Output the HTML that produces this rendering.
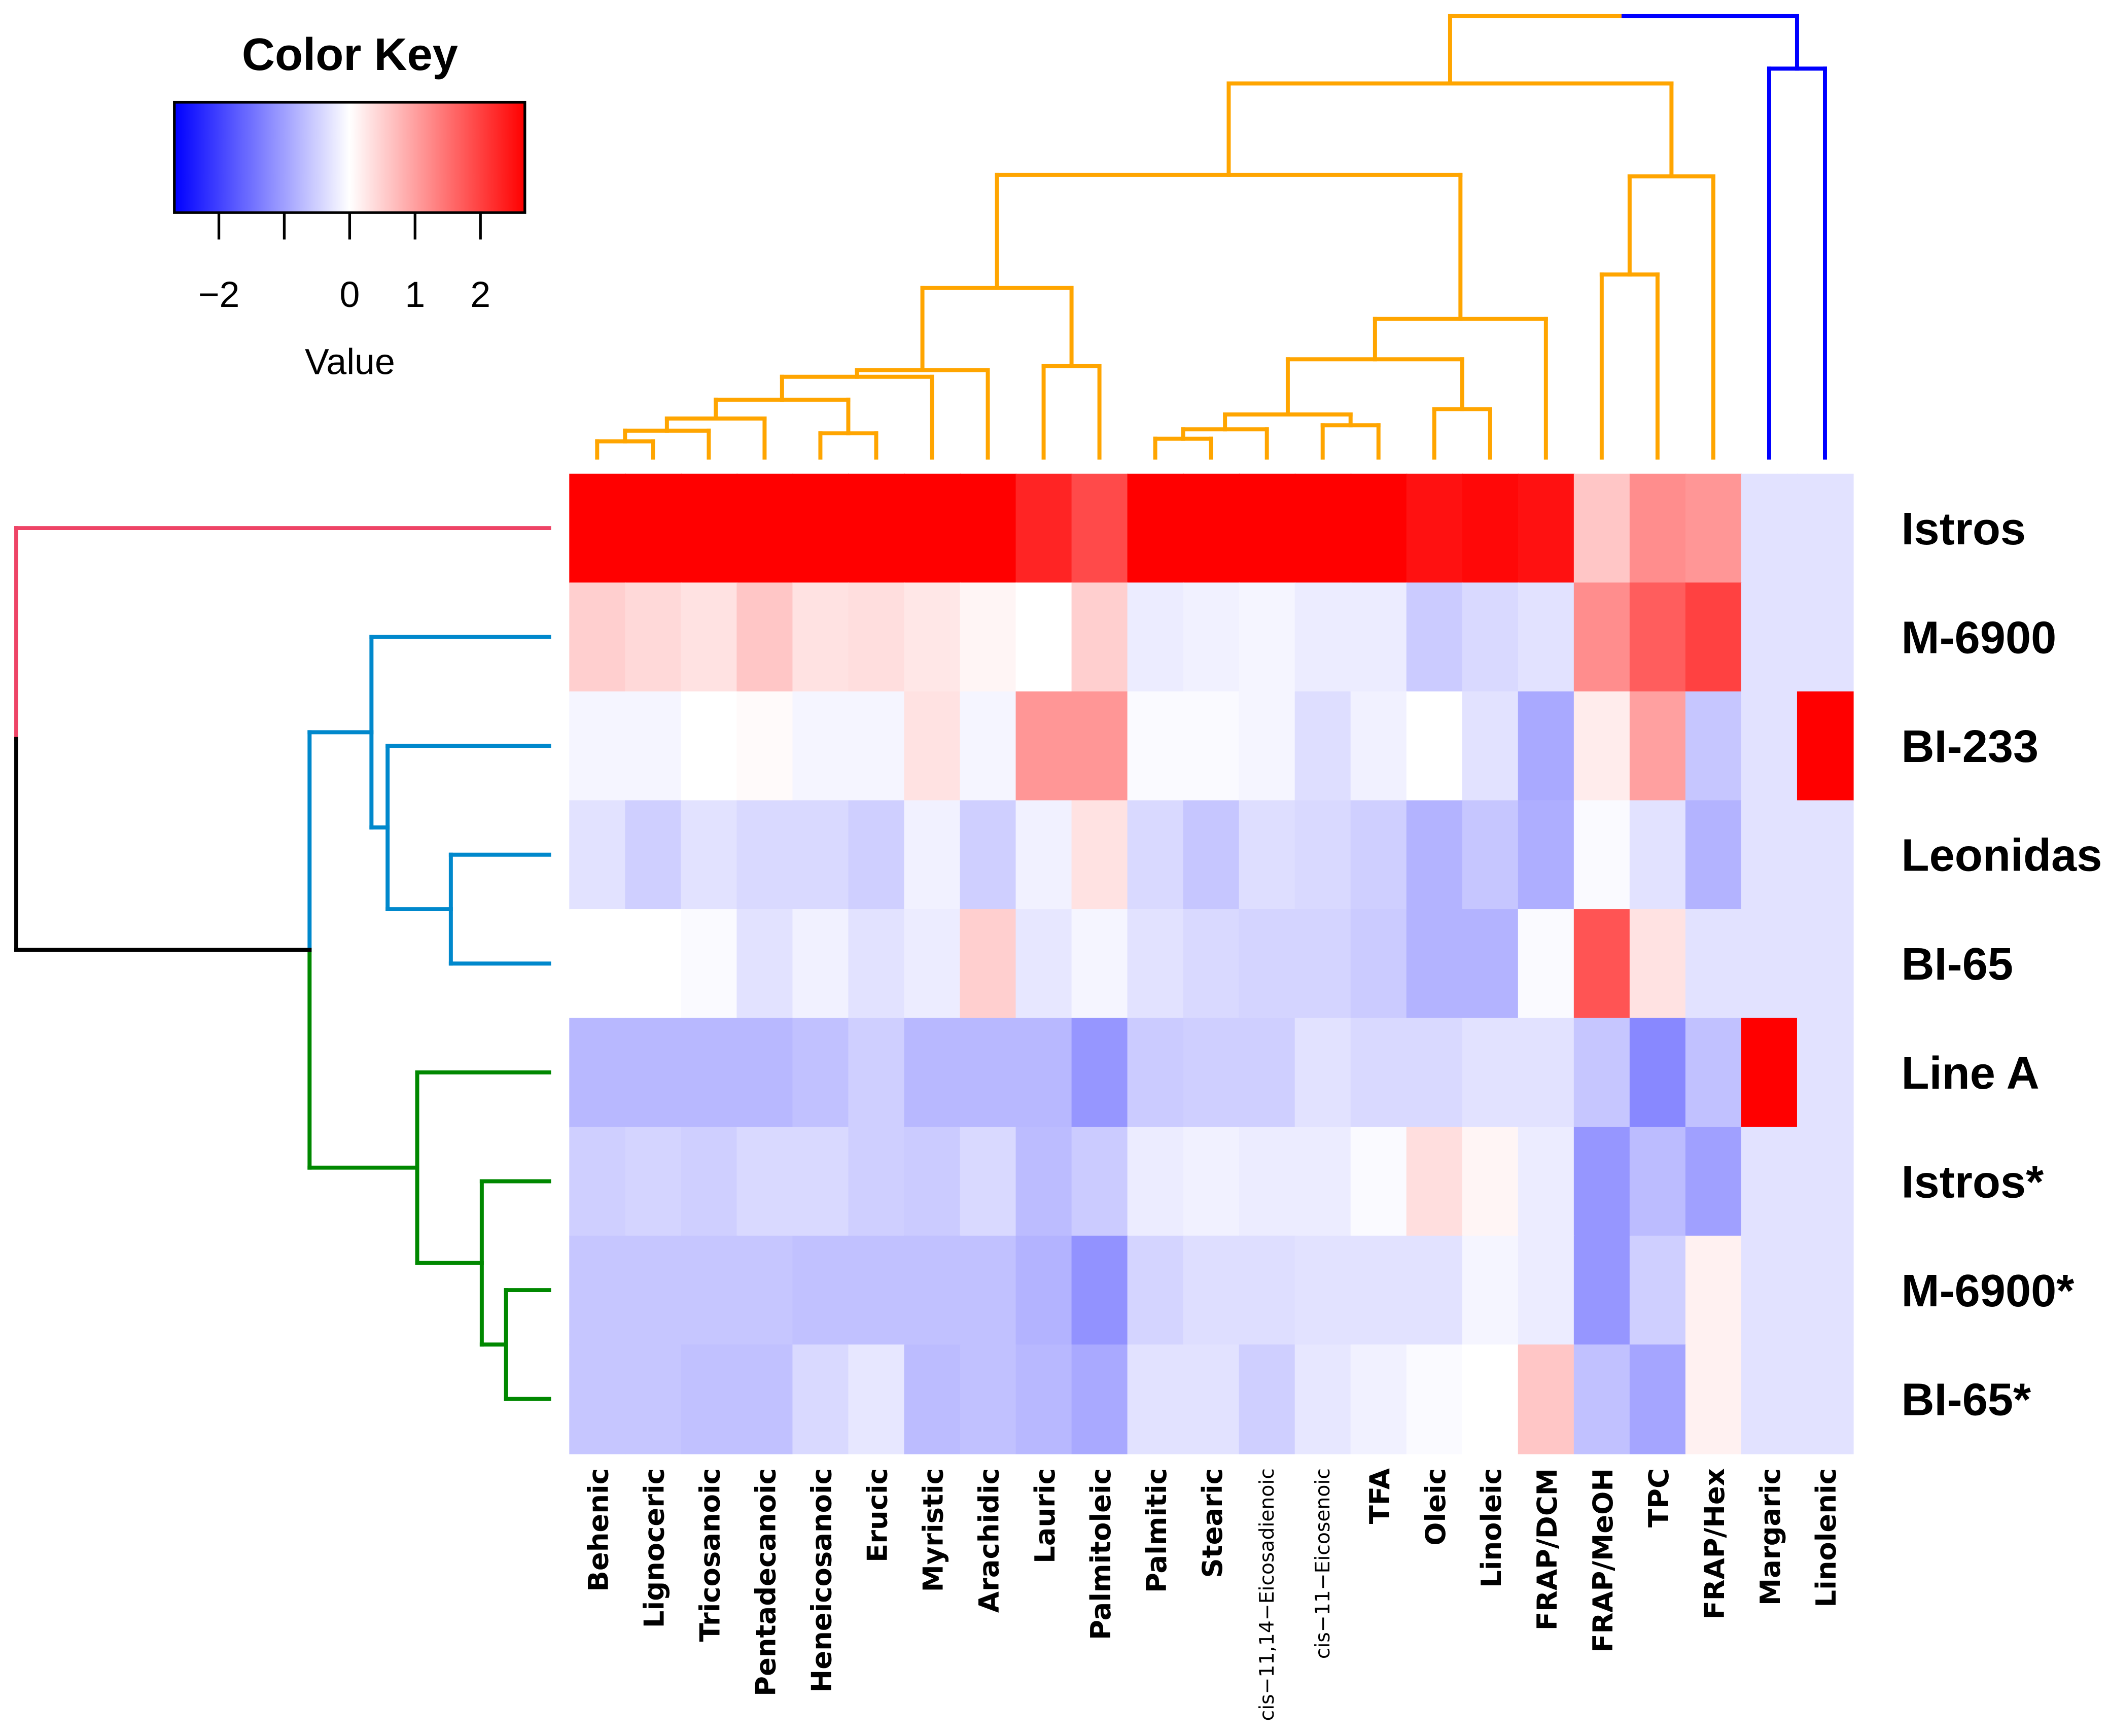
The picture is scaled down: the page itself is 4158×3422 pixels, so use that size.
<!DOCTYPE html>
<html><head><meta charset="utf-8"><style>html,body{margin:0;padding:0;background:#fff}svg{display:block}</style></head>
<body>
<svg id="chart" xmlns="http://www.w3.org/2000/svg" width="4158" height="3422" viewBox="0 0 1567.3 1290">
<defs><linearGradient id="kg" x1="0" x2="1" y1="0" y2="0"><stop offset="0" stop-color="#0000ff"/><stop offset="0.5" stop-color="#ffffff"/><stop offset="1" stop-color="#ff0000"/></linearGradient></defs>
<g id="key">
<text x="260" y="52" font-family="Liberation Sans, sans-serif" font-weight="bold" font-size="34" text-anchor="middle">Color Key</text>
<rect x="129.5" y="76" width="260.5" height="82" fill="url(#kg)" stroke="#000" stroke-width="2"/>
<text x="260" y="278" font-family="Liberation Sans, sans-serif" font-size="27" text-anchor="middle">Value</text>
</g>
<g id="heat"></g><g id="dend"></g><g id="labels"></g>
</svg>
<script>
const cols=["Behenic","Lignoceric","Tricosanoic","Pentadecanoic","Heneicosanoic","Erucic","Myristic","Arachidic","Lauric","Palmitoleic","Palmitic","Stearic","cis\u221211,14\u2212Eicosadienoic","cis\u221211\u2212Eicosenoic","TFA","Oleic","Linoleic","FRAP/DCM","FRAP/MeOH","TPC","FRAP/Hex","Margaric","Linolenic"];
const rows=["Istros","M-6900","BI-233","Leonidas","BI-65","Line A","Istros*","M-6900*","BI-65*"];
const keyTicks=[-2,-1,0,1,2];
const keyTickLabels=["\u22122","","0","1","2"];
const vIstros=[2.7,2.7,2.7,2.7,2.7,2.7,2.7,2.7,2.3,1.9,2.7,2.7,2.7,2.7,2.7,2.5,2.6,2.5,0.6,1.2,1.1,-0.3,-0.3];
const vM6900=[0.5,0.4,0.3,0.6,0.3,0.35,0.25,0.1,0,0.5,-0.2,-0.15,-0.1,-0.2,-0.2,-0.55,-0.4,-0.3,1.2,1.7,2.0,-0.3,-0.3];
const vBI233=[-0.1,-0.1,0,0.05,-0.1,-0.1,0.3,-0.1,1.1,1.1,-0.05,-0.05,-0.1,-0.35,-0.15,0,-0.3,-0.9,0.2,1.0,-0.6,-0.3,2.7];
const vLeonidas=[-0.3,-0.5,-0.3,-0.4,-0.4,-0.5,-0.15,-0.5,-0.15,0.3,-0.4,-0.6,-0.35,-0.4,-0.5,-0.8,-0.6,-0.85,-0.05,-0.3,-0.8,-0.3,-0.3];
const vBI65=[0,0,-0.05,-0.3,-0.15,-0.3,-0.2,0.5,-0.25,-0.1,-0.3,-0.4,-0.45,-0.45,-0.55,-0.8,-0.8,-0.05,1.8,0.3,-0.3,-0.3,-0.3];
const vLineA=[-0.75,-0.75,-0.75,-0.75,-0.65,-0.5,-0.75,-0.75,-0.75,-1.1,-0.55,-0.5,-0.5,-0.3,-0.4,-0.4,-0.3,-0.3,-0.6,-1.25,-0.65,2.7,-0.3];
const vIstrosS=[-0.5,-0.45,-0.5,-0.4,-0.4,-0.5,-0.55,-0.4,-0.7,-0.55,-0.2,-0.15,-0.2,-0.2,-0.05,0.35,0.1,-0.2,-1.1,-0.7,-1.0,-0.3,-0.3];
const vM6900S=[-0.6,-0.6,-0.6,-0.6,-0.65,-0.65,-0.65,-0.65,-0.8,-1.15,-0.45,-0.35,-0.35,-0.3,-0.3,-0.3,-0.1,-0.2,-1.1,-0.5,0.15,-0.3,-0.3];
const vBI65S=[-0.6,-0.6,-0.65,-0.65,-0.4,-0.25,-0.7,-0.65,-0.75,-0.9,-0.3,-0.3,-0.5,-0.25,-0.15,-0.05,0,0.6,-0.65,-0.95,0.15,-0.3,-0.3];
const values=[vIstros,vM6900,vBI233,vLeonidas,vBI65,vLineA,vIstrosS,vM6900S,vBI65S];
const colMerges=[[0,1,328],[23,2,320],[24,3,311],[4,5,322],[25,26,297],[27,6,280],[28,7,275],[8,9,272],[29,30,214],[10,11,326],[32,12,319],[13,14,316],[33,34,308],[15,16,304],[35,36,267],[37,17,237],[31,38,130],[18,19,204],[40,20,131],[39,41,62],[21,22,51],[42,43,12]];
const colMergeColor=["#FFA500","#FFA500","#FFA500","#FFA500","#FFA500","#FFA500","#FFA500","#FFA500","#FFA500","#FFA500","#FFA500","#FFA500","#FFA500","#FFA500","#FFA500","#FFA500","#FFA500","#FFA500","#FFA500","#FFA500","#0000FF","split"];
const rowMerges=[[3,4,335],[2,9,288],[1,10,276],[7,8,376],[6,12,358],[5,13,310],[11,14,230],[0,15,12]];
const rowMergeColor=["#0088CC","#0088CC","#0088CC","#008800","#008800","#008800","split2","split3"];

const NS="http://www.w3.org/2000/svg";
const X0=423,X1=1377,Y0=352,Y1=1080;
const cw=(X1-X0)/cols.length, rh=(Y1-Y0)/rows.length;
const xCol=i=>X0+cw*i, yRow=j=>Y0+rh*j;
const M=2.68;
const keyX=v=>259.8+v*48.6;
function color(v){let t=Math.max(-1,Math.min(1,v/M));if(t<0){const c=Math.round(255*(1+t));return `rgb(${c},${c},255)`;}const c=Math.round(255*(1-t));return `rgb(255,${c},${c})`;}
function mk(tag,attrs,parent){const e=document.createElementNS(NS,tag);for(const k in attrs)e.setAttribute(k,attrs[k]);parent.appendChild(e);return e;}
const keyG=document.getElementById('key');
keyTicks.forEach((t,i)=>{
 const l=mk('line',{x1:keyX(t),x2:keyX(t),y1:158,y2:178,stroke:'#000','stroke-width':2},keyG);
 
 
 if(keyTickLabels[i]){const tx=mk('text',{x:keyX(t),y:228,'font-family':'Liberation Sans, sans-serif','font-size':27,'text-anchor':'middle'},keyG);tx.textContent=keyTickLabels[i];
 
 }
});
const heat=document.getElementById('heat');
values.forEach((row,j)=>row.forEach((v,i)=>{
 const r=mk('rect',{x:xCol(i),y:yRow(j),width:cw+0.6,height:rh+0.6,fill:color(v)},heat);
 
 
}));
const lab=document.getElementById('labels');
rows.forEach((n,j)=>{
 const t=mk('text',{x:1413,y:yRow(j)+rh/2+12,'font-family':'Liberation Sans, sans-serif','font-weight':'bold','font-size':34},lab);t.textContent=n;
 
 
});
cols.forEach((n,i)=>{
 const small=n.startsWith('cis');
 const cx=xCol(i)+cw/2+(small?5:8);
 const t=mk('text',{x:cx,y:1091,transform:`rotate(-90 ${cx} 1091)`,'font-family':'DejaVu Sans, sans-serif','font-weight':small?'normal':'bold','font-size':small?14.8:20.5,'text-anchor':'end'},lab);t.textContent=n;
 
 
});
const dend=document.getElementById('dend');
function seg(x1,y1,x2,y2,c){const l=mk('line',{x1,y1,x2,y2,stroke:c,'stroke-width':3,'stroke-linecap':'square'},dend);
 
 }
const cpos=[],ch=[];
cols.forEach((c,i)=>{cpos.push(xCol(i)+cw/2);ch.push(340);});
colMerges.forEach((m,k)=>{
 const [a,b,h]=m;const xa=cpos[a],xb=cpos[b];let c=colMergeColor[k];
 if(c==='split'){seg(xa,ch[a],xa,h,'#FFA500');seg(xb,ch[b],xb,h,'#0000FF');const mid=(xa+xb)/2;seg(xa,h,mid,h,'#FFA500');seg(mid,h,xb,h,'#0000FF');}
 else{seg(xa,ch[a],xa,h,c);seg(xb,ch[b],xb,h,c);seg(xa,h,xb,h,c);}
 cpos.push((xa+xb)/2);ch.push(h);
});
const rpos=[],rx=[];
rows.forEach((r,j)=>{rpos.push(yRow(j)+rh/2);rx.push(408);});
rowMerges.forEach((m,k)=>{
 const [a,b,x]=m;const ya=rpos[a],yb=rpos[b];const c=rowMergeColor[k];const mid=(ya+yb)/2;
 if(c==='split2'){seg(rx[a],ya,x,ya,'#0088CC');seg(rx[b],yb,x,yb,'#008800');seg(x,ya,x,mid,'#0088CC');seg(x,mid,x,yb,'#008800');}
 else if(c==='split3'){seg(rx[a],ya,x,ya,'#EE4466');seg(rx[b],yb,x,yb,'#000000');seg(x,ya,x,mid,'#EE4466');seg(x,mid,x,yb,'#000000');}
 else{seg(rx[a],ya,x,ya,c);seg(rx[b],yb,x,yb,c);seg(x,ya,x,yb,c);}
 rpos.push(mid);rx.push(x);
});
</script>
</body></html>
